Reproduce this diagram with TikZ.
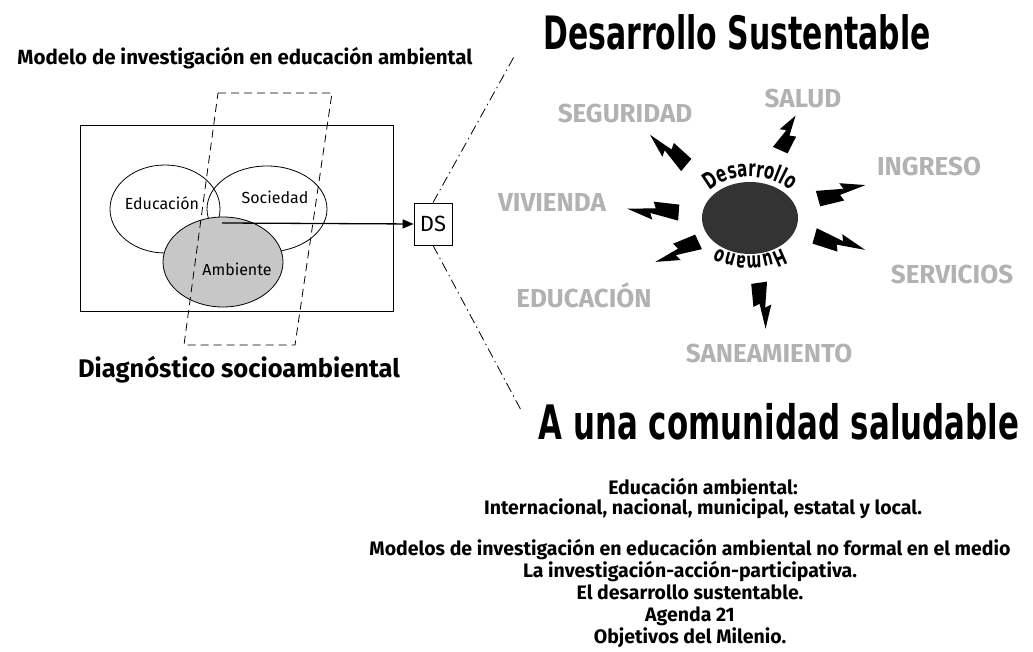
\documentclass[tikz,border=0pt]{standalone}
\usepackage{fontspec}
\setmainfont{Fira Sans}
\newfontfamily\bannerfont[FakeStretch=0.65]{DejaVu Sans}
\usetikzlibrary{calc,arrows.meta,shapes.geometric,decorations.text}

\newcommand{\rayo}[4]{%
    \coordinate (p) at ($(#1)!#3!(#2)$);
    \coordinate (q) at ($(#1)!#4!(#2)$);
    \fill ($(p)!8pt!90:(q)$) -- ($(p)!0.55!(q)!2.5pt!90:(q)$) -- ($(p)!0.5!(q)!9pt!90:(q)$) -- (q)
        -- ($(p)!0.45!(q)!2.5pt!-90:(q)$) -- ($(p)!0.5!(q)!9pt!-90:(q)$) -- ($(p)!8pt!-90:(q)$) -- cycle;}

\begin{document}
\begin{tikzpicture}[x=1pt, y=1pt, >={Triangle[length=11pt, width=9pt]},
        venn/.style={ellipse, draw, thick, inner sep=0pt},
        etiqueta/.style={font=\bfseries\fontsize{26}{26}\selectfont, text=black!30},
        fan/.style={thick, dash pattern=on 10pt off 4pt on 1.5pt off 4pt}]
        \useasboundingbox (0,0) rectangle (1033,652);

        \node[font=\bfseries\fontsize{20.5}{20.5}\selectfont] (modelo) at (245,594) {Modelo de investigación en educación ambiental};
        \draw[thick] (80,341) rectangle (393,527);
        \node[venn, minimum width=110pt, minimum height=88pt] (E) at (165,443) {};
        \node[venn, minimum width=120pt, minimum height=86pt] (S) at (267,443) {};
        \node[venn, fill=black!22, minimum width=120pt, minimum height=90pt] (A) at (223,390) {};
        \node[font=\fontsize{16}{16}\selectfont] (educ) at (162,449) {Educación};
        \node[font=\fontsize{16}{16}\selectfont] (soci) at (275,455) {Sociedad};
        \node[font=\fontsize{16}{16}\selectfont] (ambi) at (237,383) {Ambiente};
        \draw[thick, dash pattern=on 8pt off 5pt] (218,559) -- (332,559) -- (295,307) -- (184,307) -- cycle;
        \node[font=\bfseries\fontsize{25.5}{25.5}\selectfont] (diag) at (239,282) {Diagnóstico socioambiental};

        \coordinate (core) at (222,429);
        \node[draw, thick, minimum width=38pt, minimum height=42pt, inner sep=0pt, font=\fontsize{22}{22}\selectfont] (DS) at (433,428) {DS};
        \draw[->, line width=1.3pt] (core) -- (DS.west);
        \coordinate (fanup) at (515,597);
        \coordinate (fandown) at (522,240);
        \draw[fan] (DS.north) -- (fanup);
        \draw[fan] (DS.south) -- (fandown);

        \node[anchor=base, font=\bannerfont\bfseries\fontsize{46}{46}\selectfont] (titulo) at (737,602) {Desarrollo Sustentable};
        \node[ellipse, fill=black!80, minimum width=96pt, minimum height=72pt] (hub) at (750,434) {};
        \path[decorate, decoration={text along path, text align=center,
            text={|\bannerfont\bfseries\fontsize{23}{23}\selectfont|Desarrollo}}]
            ($(hub)+(165:54 and 41)$) arc[start angle=165, end angle=15, x radius=54, y radius=41];
        \path[decorate, decoration={text along path, text align=center,
            text={|\bannerfont\bfseries\fontsize{22}{22}\selectfont|Humano}}]
            ($(hub)+(-15:52 and 38)$) arc[start angle=-15, end angle=-165, x radius=52, y radius=38];

        \node[etiqueta] (seguridad) at (625,538) {SEGURIDAD};
        \node[etiqueta] (salud) at (803,553) {SALUD};
        \node[etiqueta] (ingreso) at (929,485) {INGRESO};
        \node[etiqueta] (vivienda) at (552,449) {VIVIENDA};
        \node[etiqueta] (educacion) at (584,357) {EDUCACIÓN};
        \node[etiqueta] (servicios) at (952,378) {SERVICIOS};
        \node[etiqueta] (saneamiento) at (769,299) {SANEAMIENTO};

        \rayo{hub}{seguridad}{0.51}{0.80}
        \rayo{hub}{salud}{0.57}{0.86}
        \rayo{hub}{ingreso}{0.38}{0.645}
        \rayo{hub}{vivienda}{0.36}{0.62}
        \rayo{hub}{educacion}{0.31}{0.57}
        \rayo{hub}{servicios}{0.32}{0.57}
        \rayo{hub}{saneamiento}{0.48}{0.82}

        \node[anchor=base, font=\bannerfont\bfseries\fontsize{47.5}{47.5}\selectfont] (lema) at (779,212) {A una comunidad saludable};
        \node[anchor=north, align=center, font=\bfseries\fontsize{19.5}{19.5}\selectfont] (ambito) at (703,177)
            {Educación ambiental:\\Internacional, nacional, municipal, estatal y local.};
        \node[anchor=north, align=center, font=\bfseries\fontsize{19.5}{22}\selectfont] (modelos) at (690,116)
            {Modelos de investigación en educación ambiental no formal en el medio\\La investigación-acción-participativa.\\El desarrollo sustentable.\\Agenda 21\\Objetivos del Milenio.};
\end{tikzpicture}
\end{document}
